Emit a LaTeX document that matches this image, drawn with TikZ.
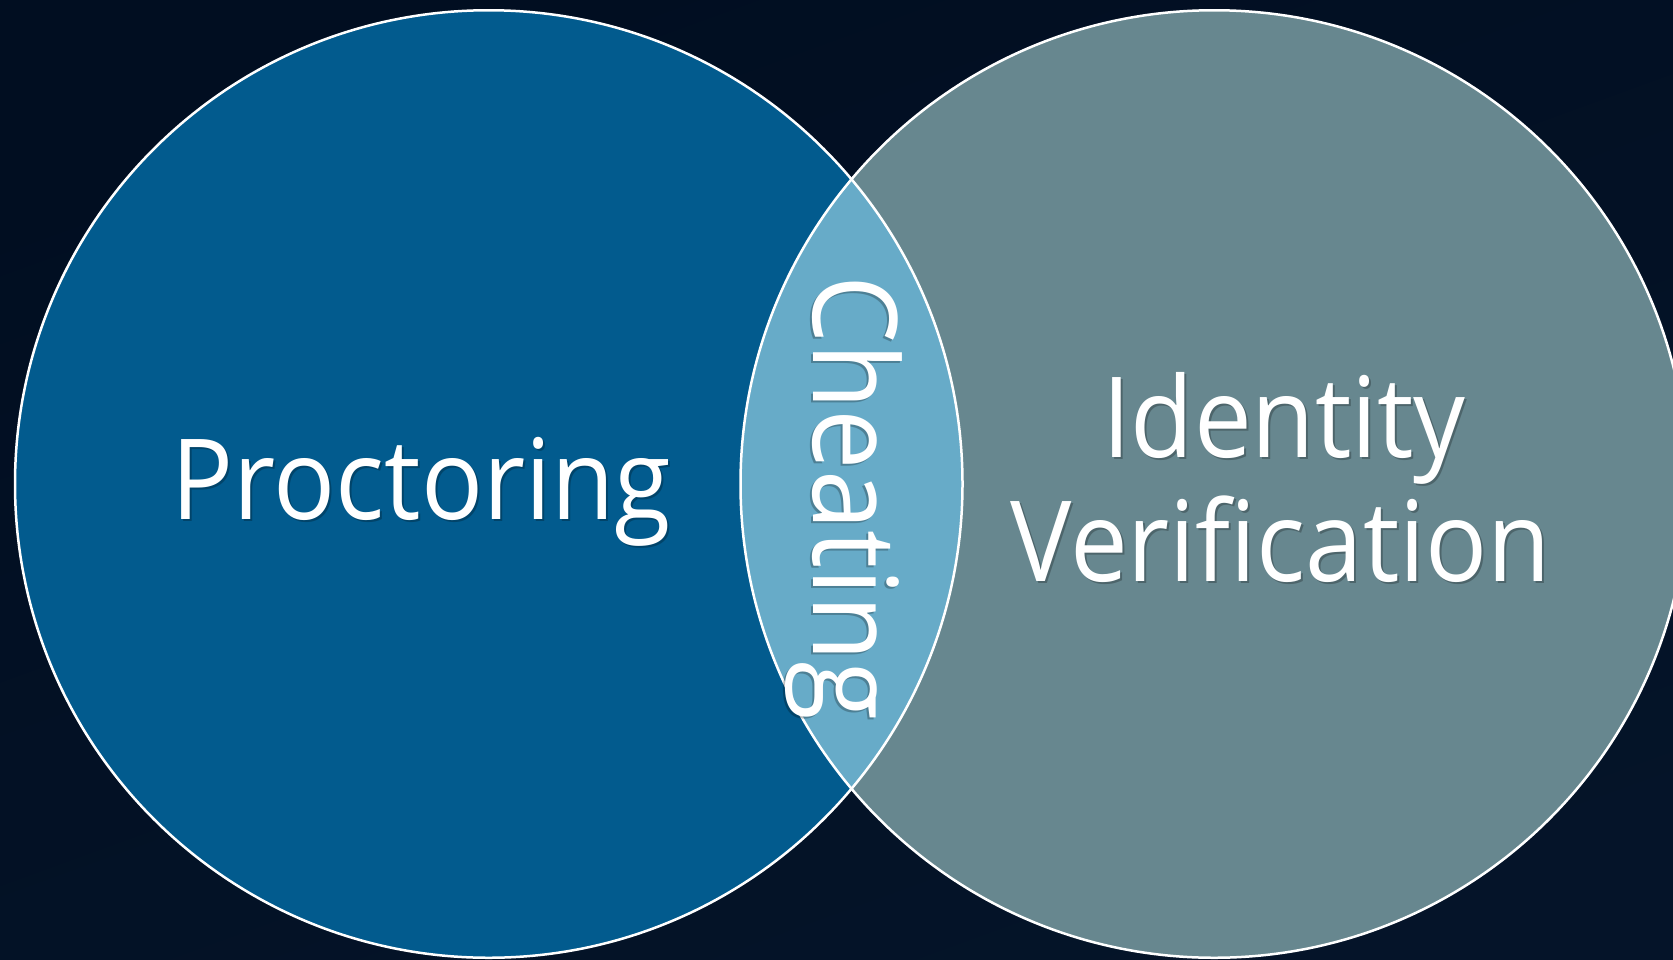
\documentclass[tikz,border=0pt]{standalone}
\usepackage{fontspec}
\setmainfont{Open Sans}[FakeStretch=0.92]
\definecolor{bgtop}{HTML}{010E21}
\definecolor{bgbot}{HTML}{0A1D34}
\definecolor{leftc}{HTML}{025B8E}
\definecolor{rightc}{HTML}{67878F}
\definecolor{lensc}{HTML}{67ABC8}
\tikzset{
  label/.style={text=white,inner sep=0pt,anchor=base,font=\fontsize{112}{134}\selectfont},
  shadowtxt/.style={text=black,text opacity=0.25,inner sep=0pt,anchor=base,font=\fontsize{112}{134}\selectfont},
  biglabel/.style={font=\fontsize{117}{140}\selectfont},
  ring/.style={draw=white,line width=2.5pt}
}
\begin{document}
\begin{tikzpicture}[x=1pt,y=-1pt]
\useasboundingbox (0,0) rectangle (1673,959);
\shade[top color=bgtop,bottom color=bgtop!60!bgbot,shading angle=20] (0,0) rectangle (1673,959);
\coordinate (L) at (488.75,484);
\coordinate (R) at (1214.25,484);
\fill[leftc] (L) circle[radius=473.75];
\fill[rightc] (R) circle[radius=473.75];
\begin{scope}
  \clip (L) circle[radius=473.75];
  \fill[lensc] (R) circle[radius=473.75];
\end{scope}
\draw[ring] (L) circle[radius=473.75];
\draw[ring] (R) circle[radius=473.75];
% shadows
\node[shadowtxt] (ps) at (423.5,521.6) {Proctoring};
\node[shadowtxt] (is) at (1286,459) {Identity};
\node[shadowtxt] (vs) at (1283,583.5) {Verification};
\node[shadowtxt,biglabel,rotate=-90] (cs) at (811,500) {Cheating};
% labels
\node[label] (p) at (421.5,519.6) {Proctoring};
\node[label] (i) at (1284,457) {Identity};
\node[label] (v) at (1281,581.5) {Verification};
\node[label,biglabel,rotate=-90] (c) at (813,498) {Cheating};
\end{tikzpicture}
\end{document}
